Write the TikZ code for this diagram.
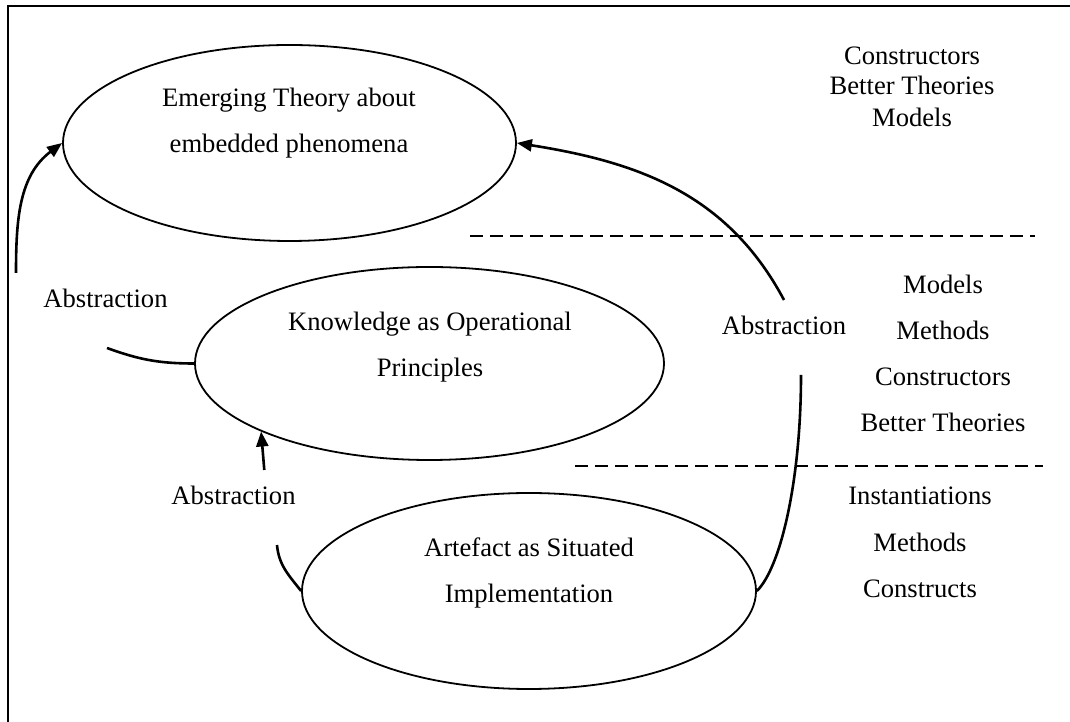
\documentclass[tikz,border=0pt]{standalone}
\usepackage{fontspec}
\setmainfont{Liberation Serif}
\usetikzlibrary{shapes.geometric,arrows.meta}
\begin{document}
\begin{tikzpicture}[x=0.5pt,y=0.5pt,
  level/.style={draw,ellipse,line width=0.9pt,inner sep=0pt},
  txt/.style={anchor=base,inner sep=0pt,font=\fontsize{13.3pt}{16pt}\selectfont},
  link/.style={line width=1.3pt},
  flow/.style={link,-{Triangle[length=7.5pt,width=6pt]}},
  divider/.style={line width=0.9pt,dash pattern=on 6.5pt off 3.5pt}
]
\useasboundingbox (0,0) rectangle (1070,722);

% frame (top and left edges)
\draw[line width=1.2pt] (8,0) -- (8,716) -- (1070,716);

% the three levels
\node[level,minimum width=226.5pt,minimum height=98pt] (e1) at (289.5,579) {};
\node[level,minimum width=234.5pt,minimum height=96.5pt] (e2) at (429.5,358.5) {};
\node[level,minimum width=227pt,minimum height=98pt] (e3) at (529,131) {};

\node[txt] (t1a) at (289,615) {Emerging Theory about};
\node[txt] (t1b) at (289,569) {embedded phenomena};
\node[txt] (t2a) at (430,391) {Knowledge as Operational};
\node[txt] (t2b) at (430,345) {Principles};
\node[txt] (t3a) at (529,165) {Artefact as Situated};
\node[txt] (t3b) at (529,119) {Implementation};

% abstraction labels
\node[txt] (abl) at (105.5,414) {Abstraction};
\node[txt] (abm) at (233.5,217) {Abstraction};
\node[txt] (abr) at (784,387) {Abstraction};

% layer separators
\draw[divider] (470,486) -- (1035,486);
\draw[divider] (575,256) -- (1043,256);

% outputs per layer
\node[txt] (o1a) at (912,657) {Constructors};
\node[txt] (o1b) at (912,627) {Better Theories};
\node[txt] (o1c) at (912,595) {Models};

\node[txt] (o2a) at (943,428) {Models};
\node[txt] (o2b) at (943,382) {Methods};
\node[txt] (o2c) at (943,336) {Constructors};
\node[txt] (o2d) at (943,290) {Better Theories};

\node[txt] (o3a) at (920,217) {Instantiations};
\node[txt] (o3b) at (920,170) {Methods};
\node[txt] (o3c) at (920,124) {Constructs};

% free ends of the abstraction connectors
\coordinate (la) at (16,449);
\coordinate (lb) at (107,374);
\coordinate (ma) at (264.3,252);
\coordinate (mb) at (277,177);
\coordinate (ra) at (784,422);
\coordinate (rb) at (801,347);

% left: knowledge -> theory
\draw[link] (e2.west) to[out=180,in=-20] (lb);
\draw[flow] (la) to[out=90,in=217] (e1.west);

% middle: artefact -> knowledge
\draw[link] (e3.west) to[out=128,in=-85] (mb);
\draw[flow] (ma) -- (e2.202.5);

% right: artefact -> theory
\draw[link] (e3.east) to[out=45,in=-90,out looseness=0.4,in looseness=1.2] (rb);
\draw[flow] (ra) to[out=118,in=-9] (e1.east);
\end{tikzpicture}
\end{document}
